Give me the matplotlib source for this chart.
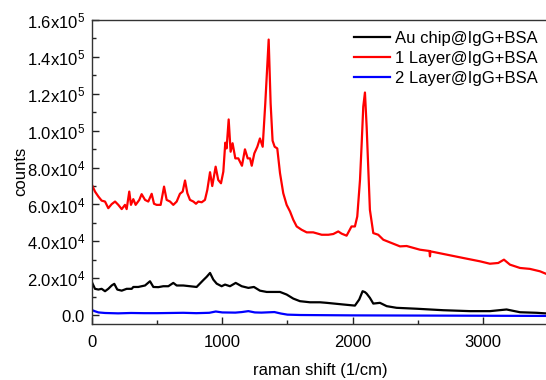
import matplotlib
matplotlib.use('Agg')
import matplotlib.pyplot as plt

# Raman spectra (x in 1/cm, y in counts)
au_x = [0, 23, 49, 74, 100, 125, 151, 171, 194, 228, 266, 305, 317, 355, 407, 445, 471,
        509, 547, 586, 624, 650, 701, 752, 803, 854, 880, 906, 931, 957, 995, 1021, 1059,
        1103, 1149, 1200, 1243, 1289, 1341, 1391, 1443, 1494, 1545, 1596, 1673, 1750, 1801,
        1929, 2018, 2051, 2077, 2095, 2108, 2133, 2159, 2210, 2262, 2338, 2492, 2696, 2901,
        3054, 3182, 3285, 3413, 3500]
au_y = [17800, 14300, 13900, 14300, 13000, 14300, 16100, 17000, 13900, 13300, 14300, 14300,
        15300, 15300, 16100, 18400, 15300, 15200, 15700, 15700, 17500, 16100, 16100, 15700,
        15300, 19000, 20800, 22900, 19300, 17100, 15700, 16600, 15700, 17500, 15700, 14800,
        15300, 13300, 12600, 12600, 12600, 11200, 9000, 7600, 7000, 7000, 6700, 5800, 5200,
        8500, 13000, 12500, 11700, 9400, 6300, 6700, 4900, 4000, 3500, 2700, 2200, 2200, 3100,
        1600, 1300, 900]

layer1_x = [0, 23, 49, 74, 100, 125, 151, 177, 202, 228, 253, 266, 286, 299, 317, 335, 363,
            381, 407, 432, 458, 476, 496, 527, 553, 573, 599, 624, 650, 675, 696, 714, 732,
            752, 778, 798, 816, 842, 867, 885, 906, 923, 949, 969, 990, 1008, 1023, 1033, 1049,
            1064, 1079, 1100, 1123, 1151, 1174, 1195, 1213, 1226, 1246, 1269, 1289, 1310, 1330,
            1356, 1371, 1386, 1402, 1422, 1443, 1468, 1494, 1520, 1545, 1571, 1609, 1648, 1698,
            1763, 1814, 1852, 1890, 1916, 1954, 1992, 2018, 2036, 2057, 2070, 2082, 2095, 2108,
            2121, 2133, 2159, 2197, 2236, 2300, 2364, 2415, 2517, 2590, 2594, 2598, 2696, 2850,
            2978, 3054, 3118, 3162, 3208, 3285, 3361, 3438, 3500]
layer1_y = [70600, 67000, 64300, 62100, 61600, 58000, 60200, 61600, 59800, 57500, 59800,
            57500, 67000, 59800, 62900, 59800, 62500, 65600, 62500, 61600, 65800, 60400, 59800,
            59800, 69700, 62500, 61600, 59800, 61600, 65800, 67000, 73000, 66100, 62500, 61600,
            60400, 61600, 61200, 62500, 67900, 77500, 70000, 80500, 73300, 71500, 77800, 93500,
            90400, 106100, 88600, 93200, 85000, 85000, 81000, 89900, 85000, 85000, 81000, 87700,
            91300, 95800, 91300, 114800, 149400, 114800, 94600, 91300, 90400, 77000, 66100,
            59800, 56200, 51700, 48100, 46300, 44900, 44900, 43600, 43600, 44000, 45400, 44200,
            43100, 48100, 48100, 53500, 73300, 93200, 113000, 120700, 102200, 78700, 57100,
            44500, 43600, 40900, 39100, 37300, 37500, 35500, 34800, 31900, 34600, 33200, 31000,
            29200, 27900, 28300, 30100, 27400, 25600, 25100, 23800, 22000]

layer2_x = [0, 20, 50, 100, 200, 300, 400, 500, 600, 700, 800, 900, 950, 1000, 1100, 1150,
            1200, 1250, 1300, 1400, 1450, 1500, 1600, 2000, 2500, 3000, 3500]
layer2_y = [2800, 2200, 1500, 1200, 1000, 1200, 1100, 1100, 1200, 1300, 1100, 1300, 2000,
            1500, 1400, 1700, 2200, 1500, 1400, 1700, 900, 300, 100, -100, -200, -300, -400]

series_labels = ['Au chip@IgG+BSA', '1 Layer@IgG+BSA', '2 Layer@IgG+BSA']
series_colors = ['black', 'red', 'blue']

xtick_values = [0, 1000, 2000, 3000]
ytick_values = [0, 20000, 40000, 60000, 80000, 100000, 120000, 140000, 160000]
ytick_labels = ['0.0', '2.0x10^{4}', '4.0x10^{4}', '6.0x10^{4}', '8.0x10^{4}',
                '1.0x10^{5}', '1.2x10^{5}', '1.4x10^{5}', '1.6x10^{5}']

plt.rcParams['font.family'] = ['Liberation Sans', 'DejaVu Sans']
plt.rcParams['font.size'] = 12

fig = plt.figure(figsize=(5.46, 3.8), dpi=100)
ax = fig.add_axes([92 / 546, 1 - 323.5 / 380, 456 / 546, (323.5 - 20) / 380])

for xs, ys, label, colour in zip([au_x, layer1_x, layer2_x], [au_y, layer1_y, layer2_y],
                                 series_labels, series_colors):
    ax.plot(xs, ys, color=colour, lw=1.6, label=label)

ax.set_xlim(0, 3500)
ax.set_ylim(-4500, 160000)
ax.set_xticks(xtick_values)
ax.set_xticks([500, 1500, 2500, 3500], minor=True)
ax.set_yticks(ytick_values)
ax.set_yticklabels([r'$\mathregular{' + lbl + '}$' for lbl in ytick_labels])
ax.set_yticks([v + 10000 for v in ytick_values[:-1]], minor=True)
ax.tick_params(which='both', direction='in', colors='#222222', labelcolor='black')
ax.tick_params(which='major', length=5, width=1, pad=5)
ax.tick_params(axis='x', which='major', pad=8)
ax.tick_params(which='minor', length=3, width=1)
for spine in ax.spines.values():
    spine.set_color('#333333')
    spine.set_linewidth(1)

ax.set_xlabel('raman shift (1/cm)', labelpad=10)
ax.set_ylabel('counts', labelpad=-1)

ax.legend(loc='upper right', bbox_to_anchor=(538 / 546, 1 - 31 / 380),
          bbox_transform=fig.transFigure, frameon=False, handlelength=2.2,
          handletextpad=0.3, labelspacing=0.3, borderpad=0, borderaxespad=0)

fig.savefig('out.png', dpi=100)
